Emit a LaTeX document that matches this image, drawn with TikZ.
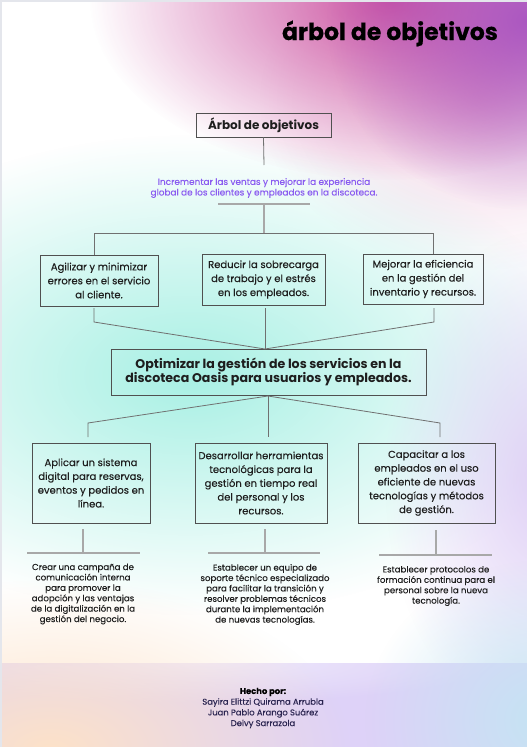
\documentclass[tikz,border=0pt]{standalone}
\usepackage{fontspec}
\setmainfont{Poppins}
\usetikzlibrary{fadings}
\tikzfading[name=blob, inner color=transparent!0, outer color=transparent!100]
\definecolor{boxline}{HTML}{505050}
\definecolor{connline}{HTML}{707070}
\definecolor{lightline}{HTML}{A8A8A8}
\definecolor{txt}{HTML}{1E1E1E}
\definecolor{violet}{HTML}{8A5CF0}
\definecolor{navy}{HTML}{2A2450}
\definecolor{magenta}{HTML}{C8459A}
\definecolor{plum}{HTML}{A24CC0}
\definecolor{rosy}{HTML}{E6A8CC}
\definecolor{teal}{HTML}{A8F0E4}
\definecolor{lilac}{HTML}{DCCBF5}
\definecolor{band}{HTML}{DED2F8}
\definecolor{peach}{HTML}{FDE2C8}
\definecolor{skyb}{HTML}{C4E4F3}
\definecolor{edge}{HTML}{E4E6EC}
\tikzset{
  box/.style={draw=boxline, line width=0.9pt, inner sep=0pt, align=center, text=txt},
  lvtwo/.style={box, font=\fontsize{10}{14}\selectfont\addfontfeature{FakeBold=0.3}},
  lvthree/.style={box, font=\fontsize{10}{13.8}\selectfont\addfontfeature{FakeBold=0.3}, minimum height=80pt},
  small/.style={inner sep=0pt, align=center, text=txt, font=\fontsize{8.6}{10.4}\selectfont\addfontfeature{FakeBold=0.2}},
  conn/.style={draw=connline, line width=0.8pt},
  light/.style={draw=lightline, line width=1.2pt},
}
\begin{document}
\begin{tikzpicture}[x=1pt,y=-1pt]
\useasboundingbox (0,0) rectangle (527,747);
% background
\fill[white] (0,0) rectangle (527,747);
\begin{scope}
\clip (2,2) rectangle (527,747);
\fill[rosy, path fading=blob, opacity=0.55] (480,100) ellipse (220 and 170);
\fill[magenta, path fading=blob, opacity=0.9] (390,0) ellipse (300 and 180);
\fill[plum, path fading=blob, opacity=0.85] (527,20) ellipse (200 and 190);
\fill[teal, path fading=blob] (190,375) ellipse (400 and 240);
\fill[lilac, path fading=blob, opacity=0.9] (545,480) ellipse (160 and 250);
\fill[band] (0,663) rectangle (527,747);
\fill[white, path fading=blob, opacity=0.5] (200,663) ellipse (300 and 40);
\fill[peach, path fading=blob] (50,750) ellipse (300 and 170);
\fill[skyb, path fading=blob] (545,720) ellipse (180 and 160);
\end{scope}
\fill[edge] (0,0) rectangle (527,2);
\fill[edge] (0,0) rectangle (2,747);
% title
\node[anchor=base, inner sep=0pt, font=\fontsize{23.5}{28}\selectfont\bfseries\addfontfeature{FakeBold=0.5}, text=black] (title) at (390,40) {árbol de objetivos};
% top box
\node[box, minimum width=135pt, minimum height=24pt, font=\fontsize{12}{14}\selectfont\bfseries] (t) at (263.5,125) {Árbol de objetivos};
\node[small, text=violet, font=\fontsize{8.9}{10.6}\selectfont\addfontfeature{FakeBold=0.2}] (g) at (264,188) {Incrementar las ventas y mejorar la experiencia\\global de los clientes y empleados en la discoteca.};
% level 2
\node[lvtwo, minimum width=118pt, minimum height=51pt] (b1) at (99,280.5) {Agilizar y minimizar\\errores en el servicio\\al cliente.};
\node[lvtwo, minimum width=123pt, minimum height=51pt] (b2) at (263.5,279.5) {Reducir la sobrecarga\\de trabajo y el estrés\\en los empleados.};
\node[lvtwo, minimum width=120pt, minimum height=50pt] (b3) at (423,279) {Mejorar la eficiencia\\en la gestión del\\inventario y recursos.};
% main box
\node[box, minimum width=315pt, minimum height=46pt, font=\fontsize{12.6}{11}\selectfont\bfseries] (m) at (268.5,372) {Optimizar la gestión de los servicios en la\\discoteca Oasis para usuarios y empleados.};
% level 3
\node[lvthree, minimum width=118pt] (bA) at (91,483) {Aplicar un sistema\\digital para reservas,\\eventos y pedidos en\\línea.};
\node[lvthree, minimum width=132pt] (bB) at (261,483) {Desarrollar herramientas\\tecnológicas para la\\gestión en tiempo real\\del personal y los\\recursos.};
\node[lvthree, minimum width=137pt] (bC) at (426.5,483) {Capacitar a los\\empleados en el uso\\eficiente de nuevas\\tecnologías y métodos\\de gestión.};
% small texts
\node[small] (sA) at (83,594) {Crear una campaña de\\comunicación interna\\para promover la\\adopción y las ventajas\\de la digitalización en la\\gestión del negocio.};
\node[small] (sB) at (265,594.5) {Establecer un equipo de\\soporte técnico especializado\\para facilitar la transición y\\resolver problemas técnicos\\durante la implementación\\de nuevas tecnologías.};
\node[small] (sC) at (436,586) {Establecer protocolos de\\formación continua para el\\personal sobre la nueva\\tecnología.};
% credits
\node[small, text=navy, font=\fontsize{8.4}{10.7}\selectfont\addfontfeature{FakeBold=0.2}] (h) at (263,708) {{\bfseries\color{black}Hecho por:}\\Sayira Elittzi Quirama Arrubla\\Juan Pablo Arango Suárez\\Deivy Sarrazola};
% connector coordinates
\coordinate (t1) at (264,165);
\coordinate (ul) at (218,204);
\coordinate (ur) at (310,204);
\coordinate (um) at (264,204);
\coordinate (hm) at (264,233);
\coordinate (hl) at (94,233);
\coordinate (hr) at (433,233);
\coordinate (d1a) at (94,308);
\coordinate (d1b) at (94,322);
\coordinate (d2a) at (265,308);
\coordinate (d3a) at (434,308);
\coordinate (d3b) at (434,322);
\coordinate (mt) at (265,349);
\coordinate (mb) at (268,396);
\coordinate (eL) at (88,423);
\coordinate (eR) at (440,423);
\coordinate (fL) at (88,437);
\coordinate (fM) at (268,437);
\coordinate (fR) at (440,437);
\coordinate (gA1) at (83,529);
\coordinate (gA2) at (83,553);
\coordinate (kA1) at (27,553);
\coordinate (kA2) at (140,553);
\coordinate (gB1) at (265,529);
\coordinate (gB2) at (265,553);
\coordinate (kB1) at (208,553);
\coordinate (kB2) at (320,553);
\coordinate (gC1) at (436,530);
\coordinate (gC2) at (436,555);
\coordinate (kC1) at (379,555);
\coordinate (kC2) at (492,555);
% connectors
\draw[conn] (t.south) -- (t1);
\draw[light] (ul) -- (ur);
\draw[light] (um) -- (hm);
\draw[conn] (hl) -- (hr);
\draw[conn] (hl) -- (hl |- b1.north);
\draw[conn] (hr) -- (hr |- b3.north);
\draw[conn] (d1a) -- (d1b) -- (mt);
\draw[conn] (d2a) -- (mt);
\draw[conn] (d3a) -- (d3b) -- (mt);
\draw[conn] (mb) -- (eL) -- (fL);
\draw[conn] (mb) -- (fM);
\draw[conn] (mb) -- (eR) -- (fR);
\draw[light] (gA1) -- (gA2);
\draw[light] (kA1) -- (kA2);
\draw[light] (gB1) -- (gB2);
\draw[light] (kB1) -- (kB2);
\draw[light] (gC1) -- (gC2);
\draw[light] (kC1) -- (kC2);
\end{tikzpicture}
\end{document}
